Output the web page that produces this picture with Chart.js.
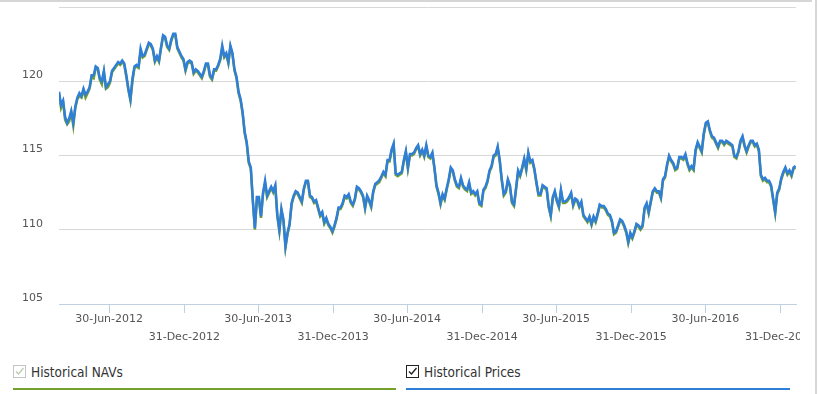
<!DOCTYPE html>
<html>
<head>
  <title>Historical NAVs and Prices</title>
  <script src="https://cdn.jsdelivr.net/npm/chart.js"></script>
  <style>
    body { margin: 0; background: #fff; width: 818px; height: 394px; overflow: hidden; position: relative; }
    #wrap { position: absolute; left: 0; top: 0; width: 800px; height: 351px; }
    .frame-top { position: absolute; left: 0; top: 0; width: 812px; height: 2px; background: #d6d6d6; }
    .frame-right { position: absolute; left: 815px; top: 0; width: 2px; height: 394px; background: #d6d6d6; }
    .legend-item { position: absolute; top: 364px; height: 16px; line-height: 16px; font-family: 'DejaVu Sans Condensed', 'Liberation Sans', sans-serif; font-size: 13.5px; color: #333; }
    .legend-item svg { position: absolute; left: 0; top: 1px; }
    .legend-item span { position: absolute; left: 18px; white-space: nowrap; }
    .legend-bar { position: absolute; top: 388px; height: 2px; }
  </style>
</head>
<body>
  <div class="frame-top"></div>
  <div class="frame-right"></div>
  <div id="wrap"><canvas id="navChart"></canvas></div>

  <div class="legend-item" style="left:13px">
    <svg width="13" height="13"><rect x="0.5" y="0.5" width="12" height="12" fill="#fff" stroke="#c4c4c4"/><path d="M3 6.5 L5.5 9 L10.5 3" fill="none" stroke="#bccab4" stroke-width="1.3"/></svg>
    <span>Historical NAVs</span>
  </div>
  <div class="legend-bar" style="left:13px; width:383px; background:#74a02c"></div>
  <div class="legend-item" style="left:406px">
    <svg width="13" height="13"><rect x="0.5" y="0.5" width="12" height="12" fill="#fff" stroke="#222"/><path d="M3 6.5 L5.5 9 L10.5 3" fill="none" stroke="#222" stroke-width="1.4"/></svg>
    <span>Historical Prices</span>
  </div>
  <div class="legend-bar" style="left:406px; width:384px; background:#2f7ed8"></div>

  <script>
    // samples every 5 days starting at startDate
    const startDate = '2012-02-28';
    const stepDays = 5;
    const endDate = '2017-02-07';

    const prices = [
      119.3, 118.4, 118.7, 117.6, 117.2, 117.5, 118.0, 117.2, 118.3, 118.9,
      119.2, 119.0, 119.5, 119.1, 119.3, 119.6, 120.4, 120.4, 121.0, 120.9,
      120.2, 120.0, 120.7, 119.6, 119.8, 120.0, 120.7, 120.9, 121.1, 121.3,
      121.2, 121.4, 121.2, 120.4, 119.5, 118.8, 120.2, 121.0, 121.1, 121.0,
      122.2, 121.7, 121.8, 122.2, 122.6, 122.5, 122.2, 121.4, 121.7, 121.4,
      122.3, 123.1, 123.0, 122.4, 122.2, 122.8, 123.2, 123.2, 122.3, 122.0,
      121.7, 121.5, 120.8, 121.3, 121.4, 121.3, 120.6, 120.8, 120.7, 120.5,
      120.3, 120.7, 121.2, 121.2, 120.4, 120.2, 120.8, 120.8, 121.1, 121.5,
      122.4, 121.7, 121.9, 121.3, 122.4, 121.9, 120.8, 120.3, 119.3, 118.8,
      117.9, 116.6, 115.9, 114.6, 114.2, 112.0, 110.1, 112.2, 112.2, 110.9,
      112.5, 113.3, 112.3, 112.6, 112.9, 112.6, 113.0, 111.0, 110.0, 111.4,
      110.7, 108.9, 109.8, 110.4, 111.8, 112.3, 112.6, 112.5, 112.2, 111.9,
      112.8, 113.3, 113.3, 112.3, 112.2, 111.9, 112.0, 111.5, 111.0, 111.2,
      110.5, 110.8, 110.4, 110.2, 109.9, 110.3, 110.8, 111.5, 111.5, 111.8,
      112.3, 112.2, 112.4, 111.9, 111.7, 112.1, 112.9, 112.8, 112.6, 112.3,
      111.5, 112.3, 112.0, 111.6, 112.6, 113.1, 113.2, 113.35, 113.6, 113.9,
      113.7, 114.7, 114.7, 115.4, 115.8, 113.8, 113.7, 113.8, 113.9, 114.7,
      115.3, 114.2, 115.1, 115.1, 115.2, 115.5, 115.7, 115.1, 115.4, 115.0,
      115.7, 115.0, 114.9, 115.2, 114.2, 113.0, 112.5, 111.8, 112.4, 112.1,
      112.8, 113.4, 114.2, 114.0, 113.4, 113.0, 112.9, 113.5, 113.0, 112.8,
      112.7, 113.2, 112.5, 112.6, 112.4, 112.6, 111.8, 111.7, 112.7, 112.9,
      113.3, 114.0, 114.3, 115.0, 115.1, 115.6, 114.7, 113.4, 112.4, 112.6,
      113.4, 113.0, 111.9, 111.7, 112.8, 114.0, 113.7, 114.2, 114.8, 114.1,
      115.2, 114.6, 114.7, 114.1, 113.2, 112.4, 112.4, 113.0, 112.9, 112.8,
      111.6, 111.0, 112.2, 112.6, 112.0, 111.6, 112.7, 111.9, 111.9, 112.0,
      112.2, 112.5, 111.7, 112.1, 112.0, 111.6, 111.9, 111.0, 110.8, 110.6,
      110.9, 110.4, 110.9, 110.6, 111.1, 111.7, 111.6, 111.6, 111.4, 111.1,
      111.0, 110.6, 109.8, 109.9, 110.3, 110.7, 110.6, 110.3, 109.9, 109.2,
      109.8, 109.5, 109.9, 110.4, 110.3, 110.1, 110.3, 111.5, 111.8, 111.2,
      111.9, 112.6, 112.8, 112.6, 112.6, 112.2, 113.4, 113.6, 114.4, 115.0,
      114.7, 114.5, 114.1, 114.2, 114.9, 114.9, 114.8, 115.1, 114.5, 114.1,
      114.3, 114.1, 115.4, 115.9, 115.6, 115.3, 116.5, 117.2, 117.3, 116.7,
      116.3, 116.2, 115.9, 115.6, 116.0, 116.0, 115.8, 116.0, 115.9, 115.8,
      115.7, 115.0, 114.9, 115.3, 116.0, 116.3, 115.7, 115.3, 115.7, 116.0,
      116.0, 115.7, 115.8, 115.4, 113.7, 113.4, 113.5, 113.3, 113.3, 113.0,
      112.1, 111.2, 112.5, 112.8, 113.5, 113.9, 114.2, 113.8, 114.0, 113.7,
      114.2, 114.3
    ];

    const navs = [
      119.2, 118.2, 118.6, 117.4, 117.1, 117.3, 117.9, 117.0, 118.2, 118.8,
      119.0, 118.9, 119.4, 118.9, 119.2, 119.5, 120.3, 120.2, 120.9, 120.8,
      120.1, 119.8, 120.6, 119.5, 119.6, 119.9, 120.6, 120.8, 121.0, 121.2,
      121.1, 121.3, 121.1, 120.3, 119.4, 118.7, 120.0, 120.9, 121.0, 120.9,
      122.0, 121.6, 121.7, 122.1, 122.5, 122.4, 122.1, 121.3, 121.6, 121.3,
      122.2, 123.0, 122.9, 122.3, 122.1, 122.7, 123.1, 123.1, 122.2, 121.9,
      121.6, 121.4, 120.7, 121.2, 121.3, 121.2, 120.5, 120.7, 120.6, 120.4,
      120.2, 120.6, 121.1, 121.1, 120.3, 120.1, 120.7, 120.7, 121.0, 121.4,
      122.2, 121.6, 121.8, 121.2, 122.3, 121.8, 120.7, 120.2, 119.2, 118.7,
      117.8, 116.5, 115.8, 114.5, 114.1, 111.9, 110.0, 112.1, 112.0, 110.8,
      112.4, 113.1, 112.2, 112.5, 112.8, 112.5, 112.9, 110.9, 109.9, 111.3,
      110.6, 108.8, 109.7, 110.3, 111.7, 112.2, 112.5, 112.4, 112.1, 111.8,
      112.7, 113.2, 113.2, 112.2, 112.1, 111.8, 111.9, 111.4, 110.9, 111.1,
      110.4, 110.7, 110.3, 110.1, 109.8, 110.2, 110.7, 111.4, 111.4, 111.7,
      112.2, 112.1, 112.3, 111.8, 111.6, 112.0, 112.8, 112.7, 112.5, 112.2,
      111.4, 112.2, 111.9, 111.5, 112.5, 113.0, 113.1, 113.2, 113.5, 113.8,
      113.6, 114.6, 114.6, 115.3, 115.7, 113.7, 113.6, 113.7, 113.8, 114.6,
      115.2, 114.1, 115.0, 115.0, 115.1, 115.4, 115.6, 115.0, 115.3, 114.9,
      115.6, 114.9, 114.8, 115.1, 114.1, 112.9, 112.4, 111.7, 112.3, 112.0,
      112.7, 113.3, 114.1, 113.9, 113.3, 112.9, 112.8, 113.4, 112.9, 112.7,
      112.6, 113.1, 112.4, 112.5, 112.3, 112.5, 111.7, 111.6, 112.6, 112.8,
      113.2, 113.9, 114.2, 114.9, 115.0, 115.5, 114.6, 113.3, 112.3, 112.5,
      113.3, 112.9, 111.8, 111.6, 112.7, 113.9, 113.6, 114.1, 114.7, 114.0,
      115.1, 114.5, 114.6, 114.0, 113.1, 112.3, 112.3, 112.9, 112.8, 112.7,
      111.5, 110.9, 112.1, 112.5, 111.9, 111.5, 112.6, 111.8, 111.8, 111.9,
      112.1, 112.4, 111.6, 112.0, 111.9, 111.5, 111.8, 110.9, 110.7, 110.5,
      110.8, 110.3, 110.8, 110.5, 111.0, 111.6, 111.5, 111.5, 111.3, 111.0,
      110.9, 110.5, 109.7, 109.8, 110.2, 110.6, 110.5, 110.2, 109.8, 109.1,
      109.7, 109.4, 109.8, 110.3, 110.2, 110.0, 110.2, 111.4, 111.7, 111.1,
      111.8, 112.5, 112.7, 112.5, 112.5, 112.1, 113.3, 113.5, 114.3, 114.9,
      114.6, 114.4, 114.0, 114.1, 114.8, 114.8, 114.7, 115.0, 114.4, 114.0,
      114.2, 114.0, 115.3, 115.8, 115.5, 115.2, 116.4, 117.1, 117.2, 116.6,
      116.2, 116.1, 115.8, 115.5, 115.9, 115.9, 115.7, 115.9, 115.8, 115.7,
      115.6, 114.9, 114.8, 115.2, 115.9, 116.2, 115.6, 115.2, 115.6, 115.9,
      115.9, 115.6, 115.7, 115.3, 113.6, 113.3, 113.4, 113.2, 113.2, 112.9,
      112.0, 111.1, 112.4, 112.7, 113.4, 113.8, 114.1, 113.7, 113.9, 113.6,
      114.1, 114.2
    ];

    const tickDates = ['2012-06-30', '2012-12-31', '2013-06-30', '2013-12-31', '2014-06-30',
                       '2014-12-31', '2015-06-30', '2015-12-31', '2016-06-30', '2016-12-31'];
    const tickLabels = ['30-Jun-2012', '31-Dec-2012', '30-Jun-2013', '31-Dec-2013', '30-Jun-2014',
                        '31-Dec-2014', '30-Jun-2015', '31-Dec-2015', '30-Jun-2016', '31-Dec-2016'];
    const yTicks = [105, 110, 115, 120, 125];

    const DAY = 86400000;
    const toMs = s => Date.parse(s + 'T00:00:00Z');
    const t0 = toMs(startDate);
    const points = arr => arr.map((v, i) => ({ x: t0 + i * stepDays * DAY, y: v }));

    const ctx = document.getElementById('navChart').getContext('2d');
    new Chart(ctx, {
      type: 'line',
      data: {
        datasets: [
          { label: 'Historical Prices', data: points(prices), borderColor: '#2f7ed8', borderWidth: 2.5, pointRadius: 0, tension: 0 },
          { label: 'Historical NAVs', data: points(navs), borderColor: '#74a02c', borderWidth: 2.5, pointRadius: 0, tension: 0 }
        ]
      },
      options: {
        responsive: true,
        maintainAspectRatio: false,
        animation: false,
        layout: { padding: { top: 7, left: 0, right: 4, bottom: 0 } },
        plugins: { legend: { display: false }, tooltip: { enabled: false } },
        scales: {
          x: {
            type: 'linear',
            min: t0,
            max: toMs(endDate),
            afterBuildTicks: scale => { scale.ticks = tickDates.map(d => ({ value: toMs(d) })); },
            afterFit: scale => { scale.height = 47; scale.paddingLeft = 0; scale.paddingRight = 0; },
            grid: { drawOnChartArea: false, drawTicks: true, tickLength: 9, color: '#c0d0e0' },
            border: { color: '#c0d0e0' },
            ticks: {
              autoSkip: false,
              maxRotation: 0,
              padding: -3,
              color: '#555',
              font: { family: 'DejaVu Sans', size: 11, lineHeight: '18px' },
              callback: (v, i) => i % 2 === 0 ? [tickLabels[i], ''] : ['', tickLabels[i]]
            }
          },
          y: {
            min: yTicks[0],
            max: yTicks[yTicks.length - 1],
            afterBuildTicks: scale => { scale.ticks = yTicks.map(v => ({ value: v })); },
            afterFit: scale => { scale.width = 59; scale.paddingTop = 0; scale.paddingBottom = 0; },
            grid: {
              drawTicks: false,
              color: c => c.tick && c.tick.value === 105 ? 'rgba(0,0,0,0)' : '#d8d8d8'
            },
            border: { display: false },
            ticks: {
              padding: 16,
              labelOffset: -6,
              color: '#555',
              font: { family: 'DejaVu Sans', size: 11 },
              callback: v => v === 125 ? '' : v
            }
          }
        }
      }
    });
  </script>
</body>
</html>
